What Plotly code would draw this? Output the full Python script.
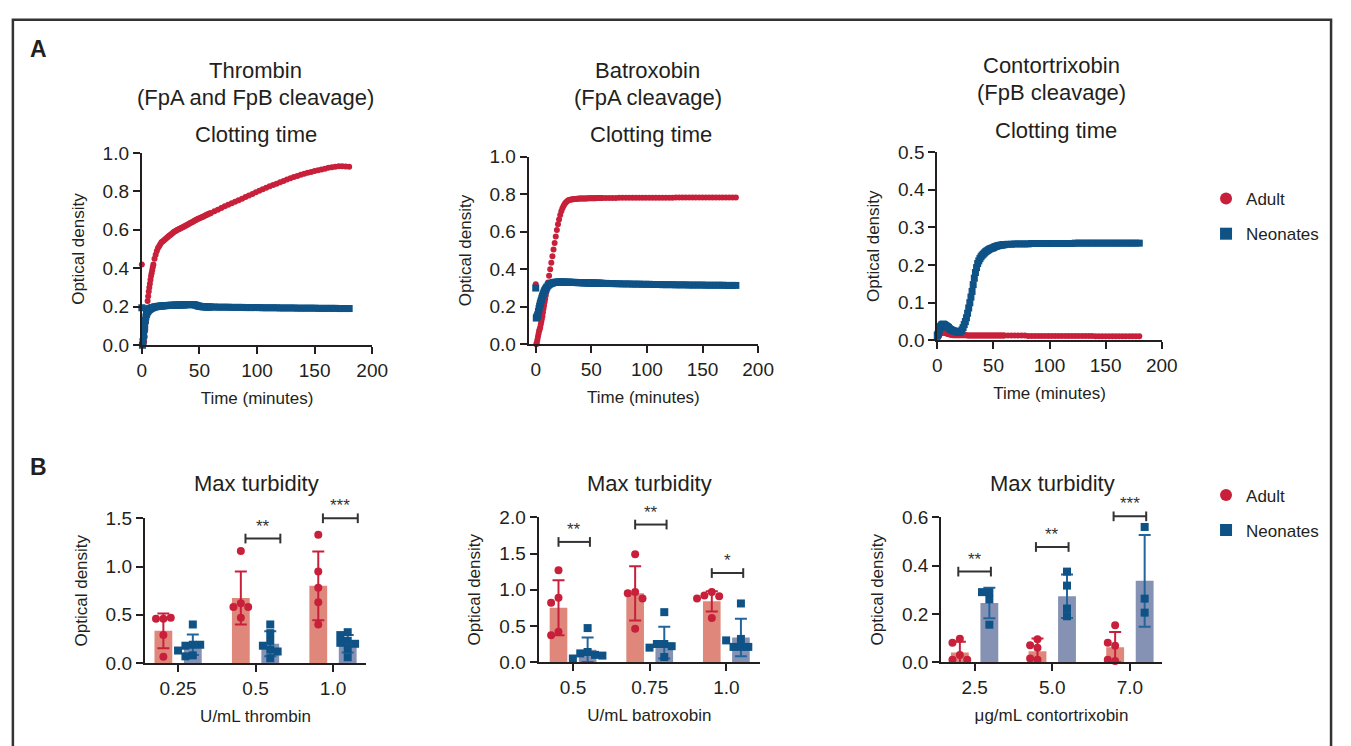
import plotly.graph_objects as go

W, H = 1351, 746

# ---------------- DATA ----------------
# sampling grid (minutes): every 0.5 min to 10, every min to 60, every 3 min to 180
times = [i / 2 for i in range(0, 21)] + list(range(11, 61)) + list(range(63, 181, 3))

thr_adult = [
    0.42, 0.0, 0.005, 0.01, 0.02, 0.045, 0.08, 0.12, 0.16, 0.195,
    0.23, 0.255, 0.28, 0.30, 0.32, 0.34, 0.36, 0.375, 0.39, 0.405,
    0.42,
    0.45, 0.47, 0.49, 0.505, 0.515, 0.525, 0.535, 0.54, 0.545, 0.55,
    0.555, 0.56, 0.565, 0.57, 0.575, 0.58, 0.585, 0.59, 0.593, 0.597,
    0.60, 0.603, 0.606, 0.609, 0.612, 0.615, 0.618, 0.621, 0.625, 0.628,
    0.631, 0.635, 0.638, 0.641, 0.645, 0.648, 0.651, 0.655, 0.658, 0.66,
    0.663, 0.666, 0.668, 0.671, 0.674, 0.677, 0.68, 0.683, 0.685, 0.688,
    0.696, 0.705, 0.713, 0.722, 0.73, 0.738, 0.746, 0.754, 0.762, 0.77,
    0.778, 0.786, 0.795, 0.803, 0.811, 0.819, 0.826, 0.833, 0.84, 0.847,
    0.854, 0.861, 0.868, 0.875, 0.88, 0.886, 0.891, 0.896, 0.901, 0.906,
    0.91, 0.914, 0.918, 0.922, 0.925, 0.928, 0.93, 0.93, 0.929, 0.928]
thr_neo = [
    0.195, 0.0, 0.02, 0.05, 0.08, 0.105, 0.13, 0.147, 0.16, 0.168,
    0.175, 0.179, 0.183, 0.186, 0.188, 0.19, 0.192, 0.194, 0.195, 0.196,
    0.197,
    0.199, 0.2, 0.201, 0.202, 0.203, 0.204, 0.204, 0.205, 0.205, 0.206,
    0.206, 0.207, 0.207, 0.207, 0.208, 0.208, 0.208, 0.208, 0.209, 0.209,
    0.209, 0.209, 0.209, 0.21, 0.21, 0.21, 0.21, 0.211, 0.211, 0.211,
    0.211, 0.212, 0.212, 0.212, 0.211, 0.21, 0.208, 0.206, 0.204, 0.203,
    0.202, 0.201, 0.2, 0.2, 0.2, 0.199, 0.199, 0.199, 0.199, 0.199,
    0.199, 0.198, 0.198, 0.198, 0.198, 0.197, 0.197, 0.197, 0.197, 0.196,
    0.196, 0.196, 0.196, 0.196, 0.195, 0.195, 0.195, 0.195, 0.195, 0.194,
    0.194, 0.194, 0.194, 0.194, 0.193, 0.193, 0.193, 0.193, 0.193, 0.193,
    0.192, 0.192, 0.192, 0.192, 0.192, 0.192, 0.191, 0.191, 0.191, 0.191]
bat_adult = [
    0.32, 0.0, 0.01, 0.025, 0.04, 0.055, 0.07, 0.08, 0.09, 0.105,
    0.12, 0.135, 0.15, 0.17, 0.19, 0.207, 0.225, 0.242, 0.26, 0.277,
    0.295,
    0.33, 0.365, 0.40, 0.435, 0.47, 0.505, 0.54, 0.575, 0.61, 0.64,
    0.665, 0.69, 0.71, 0.725, 0.738, 0.748, 0.756, 0.762, 0.767, 0.77,
    0.771, 0.772, 0.773, 0.774, 0.775, 0.775, 0.776, 0.776, 0.777, 0.777,
    0.777, 0.778, 0.778, 0.778, 0.778, 0.778, 0.779, 0.779, 0.779, 0.779,
    0.779, 0.779, 0.779, 0.779, 0.78, 0.78, 0.78, 0.78, 0.78, 0.78,
    0.78, 0.78, 0.78, 0.78, 0.781, 0.781, 0.781, 0.781, 0.781, 0.781,
    0.781, 0.782, 0.782, 0.782, 0.782, 0.782, 0.782, 0.782, 0.782, 0.782,
    0.782, 0.783, 0.783, 0.783, 0.783, 0.783, 0.783, 0.783, 0.783, 0.783,
    0.783, 0.783, 0.783, 0.783, 0.783, 0.783, 0.783, 0.783, 0.783, 0.783]
bat_neo = [
    0.30, 0.14, 0.145, 0.152, 0.16, 0.175, 0.19, 0.203, 0.215, 0.225,
    0.235, 0.245, 0.255, 0.263, 0.27, 0.278, 0.285, 0.29, 0.295, 0.3,
    0.305,
    0.312, 0.318, 0.322, 0.325, 0.327, 0.329, 0.33, 0.331, 0.331, 0.332,
    0.332, 0.332, 0.332, 0.332, 0.332, 0.331, 0.331, 0.331, 0.331, 0.331,
    0.331, 0.33, 0.33, 0.33, 0.33, 0.33, 0.329, 0.329, 0.329, 0.329,
    0.329, 0.328, 0.328, 0.328, 0.328, 0.328, 0.327, 0.327, 0.327, 0.327,
    0.327, 0.327, 0.326, 0.326, 0.326, 0.326, 0.326, 0.326, 0.325, 0.325,
    0.325, 0.324, 0.324, 0.323, 0.323, 0.322, 0.322, 0.322, 0.321, 0.321,
    0.321, 0.32, 0.32, 0.32, 0.319, 0.319, 0.319, 0.318, 0.318, 0.318,
    0.318, 0.317, 0.317, 0.317, 0.317, 0.316, 0.316, 0.316, 0.316, 0.316,
    0.315, 0.315, 0.315, 0.315, 0.315, 0.315, 0.314, 0.314, 0.314, 0.314]
con_adult = [
    0.005, 0.007, 0.01, 0.012, 0.015, 0.018, 0.02, 0.021, 0.022, 0.022,
    0.022, 0.022, 0.021, 0.021, 0.02, 0.02, 0.019, 0.019, 0.018, 0.018,
    0.017,
    0.016, 0.015, 0.015, 0.014, 0.014, 0.014, 0.014, 0.014, 0.014, 0.014,
    0.014, 0.014, 0.014, 0.014, 0.014, 0.014, 0.013, 0.013, 0.013, 0.013,
    0.013, 0.013, 0.013, 0.013, 0.013, 0.013, 0.013, 0.013, 0.013, 0.013,
    0.013, 0.013, 0.013, 0.013, 0.013, 0.013, 0.013, 0.013, 0.013, 0.013,
    0.013, 0.013, 0.013, 0.013, 0.013, 0.013, 0.013, 0.013, 0.013, 0.013,
    0.013, 0.013, 0.013, 0.013, 0.013, 0.013, 0.012, 0.012, 0.012, 0.012,
    0.012, 0.012, 0.012, 0.012, 0.012, 0.012, 0.012, 0.012, 0.012, 0.012,
    0.012, 0.012, 0.012, 0.012, 0.012, 0.012, 0.011, 0.011, 0.011, 0.011,
    0.011, 0.011, 0.011, 0.011, 0.011, 0.011, 0.011, 0.011, 0.011, 0.011]
con_neo = [
    0.013, 0.016, 0.02, 0.025, 0.03, 0.034, 0.037, 0.039, 0.041, 0.042,
    0.043, 0.043, 0.042, 0.041, 0.04, 0.039, 0.038, 0.037, 0.036, 0.035,
    0.034,
    0.031, 0.029, 0.027, 0.026, 0.025, 0.024, 0.023, 0.022, 0.022, 0.022,
    0.024, 0.028, 0.034, 0.042, 0.05, 0.06, 0.072, 0.086, 0.1, 0.115,
    0.13, 0.148, 0.165, 0.18, 0.193, 0.204, 0.211, 0.217, 0.222, 0.226,
    0.229, 0.232, 0.235, 0.237, 0.239, 0.241, 0.243, 0.244, 0.245, 0.246,
    0.248, 0.249, 0.25, 0.251, 0.252, 0.252, 0.253, 0.253, 0.254, 0.254,
    0.255, 0.255, 0.256, 0.256, 0.256, 0.256, 0.256, 0.257, 0.257, 0.257,
    0.257, 0.257, 0.257, 0.257, 0.257, 0.257, 0.257, 0.257, 0.257, 0.257,
    0.258, 0.258, 0.258, 0.258, 0.258, 0.258, 0.258, 0.258, 0.258, 0.258,
    0.258, 0.258, 0.258, 0.258, 0.258, 0.258, 0.258, 0.258, 0.258, 0.258]

# Max turbidity (bar = mean, error = SD, points = individual samples)
thr_cats = ["0.25", "0.5", "1.0"]
thr_adult_mean = [0.334, 0.675, 0.80]
thr_adult_sd = [0.18, 0.275, 0.355]
thr_neo_mean = [0.19, 0.20, 0.20]
thr_neo_sd = [0.107, 0.13, 0.09]
thr_adult_pts = [[0.46, 0.46, 0.47, 0.29, 0.065],
                 [1.16, 0.62, 0.58, 0.58, 0.47],
                 [1.33, 0.95, 0.78, 0.63, 0.40]]
thr_neo_pts = [[0.40, 0.19, 0.18, 0.19, 0.13, 0.08, 0.07],
               [0.40, 0.31, 0.23, 0.18, 0.14, 0.05, 0.12],
               [0.32, 0.29, 0.23, 0.21, 0.20, 0.15, 0.06]]
thr_sig = [(1, "**", 1.29), (2, "***", 1.50)]

bat_cats = ["0.5", "0.75", "1.0"]
bat_adult_mean = [0.75, 0.95, 0.84]
bat_adult_sd = [0.38, 0.375, 0.14]
bat_neo_mean = [0.17, 0.27, 0.34]
bat_neo_sd = [0.17, 0.22, 0.26]
bat_adult_pts = [[1.27, 0.89, 0.82, 0.42, 0.37],
                 [1.49, 0.97, 0.95, 0.88, 0.46],
                 [0.97, 0.92, 0.91, 0.88, 0.61]]
bat_neo_pts = [[0.47, 0.14, 0.12, 0.10, 0.05, 0.09],
               [0.69, 0.25, 0.25, 0.22, 0.20, 0.07],
               [0.81, 0.32, 0.21, 0.21, 0.21, 0.30]]
bat_sig = [(0, "**", 1.66), (1, "**", 1.90), (2, "*", 1.23)]

con_cats = ["2.5", "5.0", "7.0"]
con_adult_mean = [0.04, 0.045, 0.062]
con_adult_sd = [0.044, 0.053, 0.063]
con_neo_mean = [0.245, 0.273, 0.337]
con_neo_sd = [0.063, 0.09, 0.19]
con_adult_pts = [[0.097, 0.08, 0.03, 0.01, 0.01],
                 [0.095, 0.06, 0.07, 0.01, 0.015],
                 [0.153, 0.068, 0.08, 0.005, 0.01]]
con_neo_pts = [[0.29, 0.29, 0.26, 0.155],
               [0.375, 0.317, 0.222, 0.19],
               [0.56, 0.263, 0.205]]
con_sig = [(0, "**", 0.375), (1, "**", 0.477), (2, "***", 0.604)]

# ---------------- STYLE ----------------
RED = "#C8203A"
BLUE = "#0E5286"
RED_BAR = "#DF877B"
BLUE_BAR = "#8592B3"
BLUE_ERR = "#22649C"
INK = "#231F20"
FONT = "Liberation Sans, Arial, Helvetica, sans-serif"


def pxx(p):
    return p / W


def pxy(p):
    return 1 - p / H


# panel geometry in pixels: (x_left, x_right, y_top, y_bottom, xrange, yrange)
panels = {
    1: (139, 373, 147, 345, [0, 200], [0, 1.0]),
    2: (532, 765, 151, 344, [-6.3, 200], [0, 1.0]),
    3: (947, 1175, 146, 340, [0, 200], [0, 0.5]),
    4: (142, 367, 523, 672, [-0.43, 2.43], [0, 1.5]),
    5: (542, 767, 522, 671, [-0.45, 2.44], [0, 2.0]),
    6: (951, 1175, 522, 671, [-0.43, 2.41], [0, 0.6]),
}

fig = go.Figure()
layout = dict(
    width=W, height=H, margin=dict(l=0, r=0, t=0, b=0),
    paper_bgcolor="white", plot_bgcolor="white",
    barmode="overlay", showlegend=True,
    font=dict(family=FONT, color=INK),
)

ax_common = dict(showline=True, linecolor=INK, linewidth=2, ticks="outside",
                 ticklen=7, tickwidth=2, tickcolor=INK, showgrid=False,
                 zeroline=False, tickfont=dict(family=FONT, size=19, color=INK),
                 fixedrange=True)

xtitles = {1: "Time (minutes)", 2: "Time (minutes)", 3: "Time (minutes)",
           4: "U/mL thrombin", 5: "U/mL batroxobin", 6: "μg/mL contortrixobin"}
cats_by_panel = {4: thr_cats, 5: bat_cats, 6: con_cats}
ydticks = {1: 0.2, 2: 0.2, 3: 0.1, 4: 0.5, 5: 0.5, 6: 0.2}

for i, (xl, xr, yt, yb, xrng, yrng) in panels.items():
    xa = dict(ax_common, domain=[pxx(xl), pxx(xr)], range=xrng,
              anchor="y" if i == 1 else f"y{i}",
              title=dict(text=xtitles[i], font=dict(family=FONT, size=17, color=INK), standoff=12))
    if i <= 3:
        xa.update(tickvals=[0, 50, 100, 150, 200])
    else:
        xa.update(tickvals=[0, 1, 2], ticktext=cats_by_panel[i])
    ya = dict(ax_common, domain=[pxy(yb), pxy(yt)], range=yrng,
              anchor="x" if i == 1 else f"x{i}", dtick=ydticks[i], tick0=0,
              tickformat=".1f",
              title=dict(text="Optical density", font=dict(family=FONT, size=17, color=INK), standoff=14))
    layout["xaxis" if i == 1 else f"xaxis{i}"] = xa
    layout["yaxis" if i == 1 else f"yaxis{i}"] = ya

# ---------------- Panel A: clotting curves ----------------
curves = [(1, thr_adult, thr_neo), (2, bat_adult, bat_neo), (3, con_adult, con_neo)]
for i, adult, neo in curves:
    xs = "x" if i == 1 else f"x{i}"
    ys = "y" if i == 1 else f"y{i}"
    fig.add_trace(go.Scatter(x=times, y=adult, mode="markers", name="Adult",
                             marker=dict(symbol="circle", size=6, color=RED),
                             xaxis=xs, yaxis=ys, cliponaxis=False,
                             showlegend=(i == 1), legend="legend", legendgroup="a"))
    fig.add_trace(go.Scatter(x=times, y=neo, mode="markers", name="Neonates",
                             marker=dict(symbol="square", size=7, color=BLUE),
                             xaxis=xs, yaxis=ys, cliponaxis=False,
                             showlegend=(i == 1), legend="legend", legendgroup="n"))


# ---------------- Panel B: max turbidity ----------------
def swarm(vals, ppx, ppy, d=7.5):
    placed, offs = [], []
    for v in vals:
        o = 0.0
        for k in [0, -1, 1, -2, 2, -3, 3]:
            o = k * d
            if all((o - po) ** 2 + ((v - pv) * ppy) ** 2 >= (d * 0.9) ** 2 for po, pv in placed):
                break
        placed.append((o, v))
        offs.append(o / ppx)
    return offs


BAR_OFF = 0.19
BAR_W = 0.23
bar_sets = [(4, thr_adult_mean, thr_adult_sd, thr_neo_mean, thr_neo_sd, thr_adult_pts, thr_neo_pts, thr_sig, (-0.13, 0.32)),
            (5, bat_adult_mean, bat_adult_sd, bat_neo_mean, bat_neo_sd, bat_adult_pts, bat_neo_pts, bat_sig, (-0.19, 0.22)),
            (6, con_adult_mean, con_adult_sd, con_neo_mean, con_neo_sd, con_adult_pts, con_neo_pts, con_sig, (-0.21, 0.21))]

shapes = []
annotations = []

for i, am, asd, nm, nsd, apts, npts, sig, (lo, hi) in bar_sets:
    xl, xr, yt, yb, xrng, yrng = panels[i]
    xs, ys = f"x{i}", f"y{i}"
    ppx = (xr - xl) / (xrng[1] - xrng[0])
    ppy = (yb - yt) / (yrng[1] - yrng[0])
    fig.add_trace(go.Bar(x=[c - BAR_OFF for c in range(3)], y=am, width=BAR_W,
                         marker=dict(color=RED_BAR, line=dict(width=0)),
                         error_y=dict(type="data", array=asd, color=RED, thickness=2, width=6),
                         xaxis=xs, yaxis=ys, showlegend=False))
    fig.add_trace(go.Bar(x=[c + BAR_OFF for c in range(3)], y=nm, width=BAR_W,
                         marker=dict(color=BLUE_BAR, line=dict(width=0)),
                         error_y=dict(type="data", array=nsd, color=BLUE_ERR, thickness=2, width=6),
                         xaxis=xs, yaxis=ys, showlegend=False))
    ax_, ay_, nx_, ny_ = [], [], [], []
    for c in range(3):
        for off, v in zip(swarm(apts[c], ppx, ppy), apts[c]):
            ax_.append(c - BAR_OFF + off)
            ay_.append(v)
        for off, v in zip(swarm(npts[c], ppx, ppy), npts[c]):
            nx_.append(c + BAR_OFF + off)
            ny_.append(v)
    fig.add_trace(go.Scatter(x=ax_, y=ay_, mode="markers", name="Adult",
                             marker=dict(symbol="circle", size=8, color=RED),
                             xaxis=xs, yaxis=ys, cliponaxis=False,
                             showlegend=(i == 4), legend="legend2", legendgroup="a2"))
    fig.add_trace(go.Scatter(x=nx_, y=ny_, mode="markers", name="Neonates",
                             marker=dict(symbol="square", size=8, color=BLUE),
                             xaxis=xs, yaxis=ys, cliponaxis=False,
                             showlegend=(i == 4), legend="legend2", legendgroup="n2"))

    # significance brackets (paper coords so they are not clipped)
    def to_px(xv, yv):
        return (xl + (xv - xrng[0]) * ppx, yb - (yv - yrng[0]) * ppy)

    for c, label, yv in sig:
        x0p, yp = to_px(c + lo, yv)
        x1p, _ = to_px(c + hi, yv)
        shapes.append(dict(type="line", xref="paper", yref="paper",
                           x0=pxx(x0p), x1=pxx(x1p), y0=pxy(yp), y1=pxy(yp),
                           line=dict(color="#333333", width=2)))
        for xe in (x0p, x1p):
            shapes.append(dict(type="line", xref="paper", yref="paper",
                               x0=pxx(xe), x1=pxx(xe), y0=pxy(yp - 5), y1=pxy(yp + 5),
                               line=dict(color="#333333", width=2)))
        annotations.append(dict(text=label, xref="paper", yref="paper",
                                x=pxx((x0p + x1p) / 2), y=pxy(yp - 1),
                                xanchor="center", yanchor="bottom", showarrow=False,
                                font=dict(family=FONT, size=17, color="#333333")))

# ---------------- Titles & labels ----------------
titles = [("Thrombin", 254, 62), ("(FpA and FpB cleavage)", 254, 90), ("Clotting time", 255, 128),
          ("Batroxobin", 653, 62), ("(FpA cleavage)", 653, 90), ("Clotting time", 656, 128),
          ("Contortrixobin", 1063, 57), ("(FpB cleavage)", 1063, 85), ("Clotting time", 1068, 124),
          ("Max turbidity", 255, 487), ("Max turbidity", 655, 487), ("Max turbidity", 1064, 487)]
for t, x, y in titles:
    annotations.append(dict(text=t, xref="paper", yref="paper", x=pxx(x), y=pxy(y),
                            xanchor="center", yanchor="middle", showarrow=False,
                            font=dict(family=FONT, size=22, color=INK)))
for t, x, y in [("A", 34, 40), ("B", 34, 470)]:
    annotations.append(dict(text=f"<b>{t}</b>", xref="paper", yref="paper", x=pxx(x), y=pxy(y),
                            xanchor="center", yanchor="middle", showarrow=False,
                            font=dict(family=FONT, size=23, color=INK)))

# outer frame
shapes.append(dict(type="rect", xref="paper", yref="paper",
                   x0=pxx(8), x1=pxx(1347), y0=pxy(790), y1=pxy(10),
                   line=dict(color="#333333", width=2.5)))

legend_style = dict(xanchor="left", yanchor="top", bgcolor="rgba(0,0,0,0)",
                    font=dict(family=FONT, size=17, color=INK),
                    itemsizing="constant", tracegroupgap=10, traceorder="grouped")
layout["legend"] = dict(legend_style, x=pxx(1220), y=pxy(176))
layout["legend2"] = dict(legend_style, x=pxx(1220), y=pxy(481))
layout["shapes"] = shapes
layout["annotations"] = annotations

fig.update_layout(**layout)
fig.write_html(
    "out.html",
    config={"displayModeBar": False},
    post_script="document.body.style.margin='0';document.body.style.overflow='hidden';",
)
